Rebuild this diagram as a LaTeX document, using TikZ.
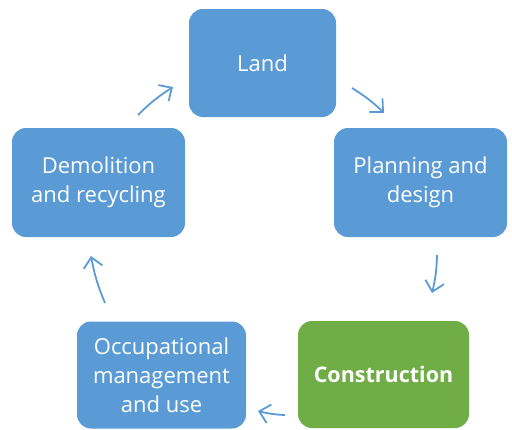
\documentclass[tikz,border=0pt]{standalone}
\usepackage{fontspec}
\setmainfont{Open Sans}
\usetikzlibrary{arrows.meta}
\definecolor{boxblue}{HTML}{5B9BD5}
\definecolor{boxgreen}{HTML}{70AD47}
\begin{document}
\begin{tikzpicture}[x=1pt,y=-1pt,
  box/.style={fill=boxblue, rounded corners=14pt, text=white, align=center,
    font=\fontsize{22}{29}\selectfont, inner sep=0pt},
  cyc/.style={draw=boxblue, line width=1.8pt,
    -{Straight Barb[length=10pt,width=19pt,line width=1.8pt]}, bend left=6}]
\useasboundingbox (0,0) rectangle (512,429);
\node[box, minimum width=147pt, minimum height=108pt] (land) at (262.5,63) {Land};
\node[box, minimum width=173pt, minimum height=109pt] (plan) at (420.5,182.5) {Planning and\\design};
\node[box, fill=boxgreen, minimum width=171pt, minimum height=107pt, font=\fontsize{21.5}{29}\selectfont\bfseries] (cons) at (383.5,374.5) {Construction};
\node[box, minimum width=169pt, minimum height=107pt] (occ) at (161.5,375) {Occupational\\management\\and use};
\node[box, minimum width=173pt, minimum height=109pt] (demo) at (98.5,182.5) {Demolition\\and recycling};
\coordinate (a1s) at (138,115); \coordinate (a1e) at (173,87);
\coordinate (a2s) at (352,88);  \coordinate (a2e) at (384,113);
\coordinate (a3s) at (437,255); \coordinate (a3e) at (432,293);
\coordinate (a4s) at (285,415); \coordinate (a4e) at (258,411);
\coordinate (a5s) at (105,303); \coordinate (a5e) at (91,256);
\draw[cyc] (a1s) to (a1e);
\draw[cyc] (a2s) to (a2e);
\draw[cyc] (a3s) to (a3e);
\draw[cyc] (a4s) to (a4e);
\draw[cyc] (a5s) to (a5e);
\end{tikzpicture}
\end{document}
